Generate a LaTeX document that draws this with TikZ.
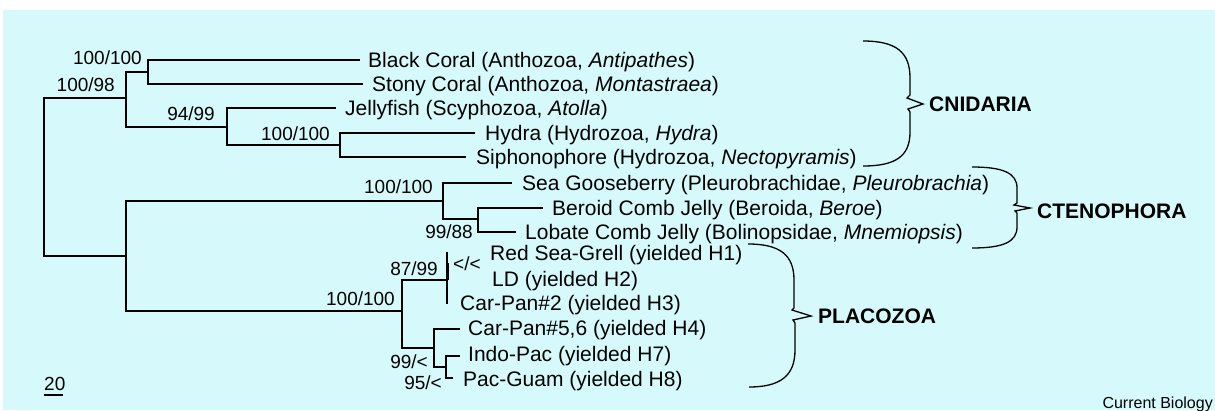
\documentclass[tikz,border=0pt]{standalone}
\usepackage{fontspec}
\setmainfont{Liberation Sans}
\definecolor{bgcyan}{RGB}{214,250,251}
\begin{document}
\begin{tikzpicture}[x=1pt,y=-1pt,
  branch/.style={line width=1.4pt},
  taxon/.style={anchor=base west, inner sep=0pt, font=\fontsize{21}{24}\selectfont},
  boot/.style={anchor=base east, inner sep=0pt, font=\fontsize{19}{22}\selectfont},
  clade/.style={anchor=base west, inner sep=0pt, font=\fontsize{21}{24}\selectfont\bfseries},
  bracepath/.style={line width=1.3pt, line join=miter}]
\useasboundingbox (0,0) rectangle (1215,410);
\fill[white] (0,0) rectangle (1215,410);
\fill[bgcyan] (3,10) rectangle (1215,410);

% internal nodes
\coordinate (root) at (44,177);
\coordinate (c0) at (126,98);
\coordinate (c1) at (148,72);
\coordinate (c2) at (227,127);
\coordinate (c3) at (340,145);
\coordinate (o0) at (126,256);
\coordinate (t0) at (443,201);
\coordinate (t1) at (478,219);
\coordinate (p0) at (402,311);
\coordinate (p1) at (447,280);
\coordinate (p2) at (434,348);
\coordinate (p3) at (446,367);
% tips
\coordinate (lBlack) at (360,60);
\coordinate (lStony) at (363,84);
\coordinate (lJelly) at (336,108);
\coordinate (lHydra) at (475,133);
\coordinate (lSiph) at (466,157);
\coordinate (lSea) at (512,183);
\coordinate (lBer) at (543,208);
\coordinate (lLob) at (516,232);
\coordinate (lRed) at (448,253);
\coordinate (lLD) at (448,278);
\coordinate (lCar2) at (448,303);
\coordinate (lCar56) at (460,329);
\coordinate (lIndo) at (460,356);
\coordinate (lPac) at (453,378);

% branches
\draw[branch] (root) |- (c0);
\draw[branch] (root) |- (o0);
\draw[branch] (c0) |- (c1);
\draw[branch] (c0) |- (c2);
\draw[branch] (c1) |- (lBlack);
\draw[branch] (c1) |- (lStony);
\draw[branch] (c2) |- (lJelly);
\draw[branch] (c2) |- (c3);
\draw[branch] (c3) |- (lHydra);
\draw[branch] (c3) |- (lSiph);
\draw[branch] (o0) |- (t0);
\draw[branch] (o0) |- (p0);
\draw[branch] (t0) |- (lSea);
\draw[branch] (t0) |- (t1);
\draw[branch] (t1) |- (lBer);
\draw[branch] (t1) |- (lLob);
\draw[branch] (p0) |- (p1);
\draw[branch] (p0) |- (p2);
\draw[branch] (p1) |- (lRed);
\draw[branch] (p1) |- (lLD);
\draw[branch] (p1) |- (lCar2);
\draw[line width=2.4pt] (447.5,263) -- (447.5,280);
\draw[branch] (p2) |- (lCar56);
\draw[branch] (p2) |- (p3);
\draw[branch] (p3) |- (lIndo);
\draw[branch] (p3) |- (lPac);

% taxa
\node[taxon] (tBlack) at (368,67.5) {Black Coral (Anthozoa, \textit{Antipathes})};
\node[taxon] (tStony) at (372,91.5) {Stony Coral (Anthozoa, \textit{Montastraea})};
\node[taxon] (tJelly) at (345,115.5) {Jellyfish (Scyphozoa, \textit{Atolla})};
\node[taxon] (tHydra) at (485,140.5) {Hydra (Hydrozoa, \textit{Hydra})};
\node[taxon] (tSiph) at (476,164.5) {Siphonophore (Hydrozoa, \textit{Nectopyramis})};
\node[taxon] (tSea) at (522,190.5) {Sea Gooseberry (Pleurobrachidae, \textit{Pleurobrachia})};
\node[taxon] (tBer) at (552,215.5) {Beroid Comb Jelly (Beroida, \textit{Beroe})};
\node[taxon] (tLob) at (525,239.5) {Lobate Comb Jelly (Bolinopsidae, \textit{Mnemiopsis})};
\node[taxon] (tRed) at (490,260.5) {Red Sea-Grell (yielded H1)};
\node[taxon] (tLD) at (492,286) {LD (yielded H2)};
\node[taxon] (tCar2) at (460,310.5) {Car-Pan\#2 (yielded H3)};
\node[taxon] (tCar56) at (468,335.5) {Car-Pan\#5,6 (yielded H4)};
\node[taxon] (tIndo) at (468,361.5) {Indo-Pac (yielded H7)};
\node[taxon] (tPac) at (463,386) {Pac-Guam (yielded H8)};

% support values
\node[boot] (b1) at (115,91) {100/98};
\node[boot] (b2) at (142,64) {100/100};
\node[boot] (b3) at (215,120) {94/99};
\node[boot] (b4) at (330,140) {100/100};
\node[boot] (b5) at (433,193) {100/100};
\node[boot] (b6) at (473,238) {99/88};
\node[boot] (b7) at (438,275) {87/99};
\node[boot, anchor=base west] (b8) at (453,270) {</<};
\node[boot] (b9) at (395,305) {100/100};
\node[boot] (b10) at (428,368) {99/<};
\node[boot] (b11) at (442,389) {95/<};

% scale bar
\node[boot, anchor=base west] (scale) at (44,390) {20};
\draw[line width=1.2pt] (44,395) -- (63,395);

% braces
\draw[bracepath] (863,41) .. controls (896,41) and (910,52) .. (910,78)
  -- (910,95) -- (907,98) -- (923,104) -- (908,109) -- (910,112) -- (910,132)
  .. controls (910,156) and (896,166) .. (863,166);
\draw[bracepath] (972,167) .. controls (1003,167) and (1017,173) .. (1017,188)
  -- (1017,203) -- (1014,205) -- (1030,208) -- (1015,211) -- (1017,213) -- (1017,227)
  .. controls (1017,242) and (1003,248) .. (972,248);
\draw[bracepath] (748,244) .. controls (780,244) and (794,255) .. (794,280)
  -- (794,308) -- (792,310) -- (811,316) -- (793,320) -- (795,323) -- (795,350)
  .. controls (795,376) and (780,387) .. (749,387);

% clade names
\node[clade] (cnid) at (929,111) {CNIDARIA};
\node[clade] (cten) at (1037,218) {CTENOPHORA};
\node[clade] (plac) at (818,323) {PLACOZOA};

\node[anchor=base east, inner sep=0pt, font=\fontsize{16}{18}\selectfont] (credit) at (1213,408) {Current Biology};
\end{tikzpicture}
\end{document}
